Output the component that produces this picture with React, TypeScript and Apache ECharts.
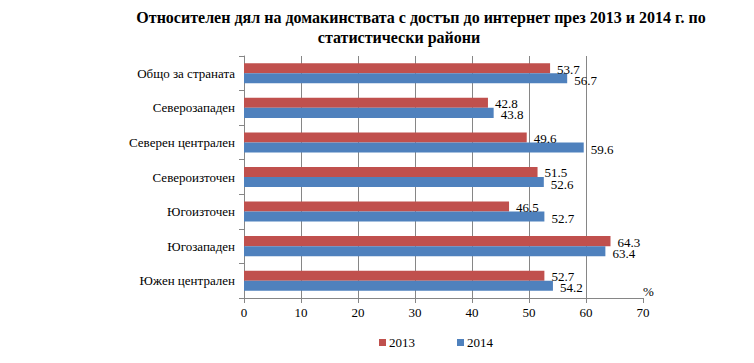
import React, { useEffect, useRef } from "react";
import * as echarts from "echarts";

const categories = [
  "Общо за страната",
  "Северозападен",
  "Северен централен",
  "Североизточен",
  "Югоизточен",
  "Югозападен",
  "Южен централен",
];
const values2013 = [53.7, 42.8, 49.6, 51.5, 46.5, 64.3, 52.7];
const values2014 = [56.7, 43.8, 59.6, 52.6, 52.7, 63.4, 54.2];
const seriesNames = ["2013", "2014"];
const titleLine1 = "Относителен дял на домакинствата с достъп до интернет през 2013 и 2014 г. по";
const titleLine2 = "статистически райони";

const FONT = "Liberation Serif, Times New Roman, serif";

export default function App() {
  const ref = useRef<HTMLDivElement>(null);
  useEffect(() => {
    if (!ref.current) return;
    document.body.style.margin = "0";
    const chart = echarts.init(ref.current, null, { renderer: "svg" });
    const mkLabel = (dy: number) => ({
      show: true,
      position: "right",
      distance: 7,
      offset: [0, dy],
      color: "#000",
      fontFamily: FONT,
      fontSize: 13,
    });
    chart.setOption({
      animation: false,
      textStyle: { fontFamily: FONT },
      title: [
        {
          text: titleLine1,
          left: 416,
          textAlign: "center",
          top: 4,
          textStyle: { fontFamily: FONT, fontSize: 16, fontWeight: "bold", color: "#000" },
        },
        {
          text: titleLine2,
          left: 394,
          textAlign: "center",
          top: 24,
          textStyle: { fontFamily: FONT, fontSize: 16, fontWeight: "bold", color: "#000" },
        },
      ],
      legend: {
        data: seriesNames,
        left: 374,
        top: 331,
        itemWidth: 7,
        itemHeight: 7,
        itemGap: 42,
        icon: "rect",
        textStyle: { fontFamily: FONT, fontSize: 13, color: "#000", padding: [0, 0, 0, -2] },
      },
      grid: { left: 244, right: 111, top: 56, bottom: 65, containLabel: false },
      xAxis: {
        type: "value",
        min: 0,
        max: 70,
        interval: 10,
        axisLine: { show: true, lineStyle: { color: "#868686" } },
        axisTick: { show: true, length: 5, lineStyle: { color: "#868686" } },
        axisLabel: { color: "#000", fontFamily: FONT, fontSize: 13, margin: 8 },
        splitLine: { show: true, showMinLine: false, showMaxLine: false, lineStyle: { color: "#868686" } },
      },
      yAxis: {
        type: "category",
        data: categories,
        inverse: true,
        axisLine: { show: true, lineStyle: { color: "#868686" } },
        axisTick: { show: true, length: 5, lineStyle: { color: "#868686" } },
        axisLabel: { color: "#000", fontFamily: FONT, fontSize: 13, margin: 9 },
      },
      graphic: [
        {
          type: "text",
          left: 643,
          top: 285,
          style: { text: "%", fontFamily: FONT, fontSize: 13, fill: "#000" },
        },
      ],
      series: [
        {
          name: seriesNames[0],
          type: "bar",
          data: values2013,
          barGap: "0%",
          barCategoryGap: "42%",
          itemStyle: { color: "#C0504D" },
          label: mkLabel(1),
        },
        {
          name: seriesNames[1],
          type: "bar",
          data: values2014,
          barGap: "0%",
          barCategoryGap: "42%",
          itemStyle: { color: "#4F81BD" },
          label: mkLabel(2),
        },
      ],
    });
    return () => chart.dispose();
  }, []);
  return <div ref={ref} style={{ width: 754, height: 363 }} />;
}
